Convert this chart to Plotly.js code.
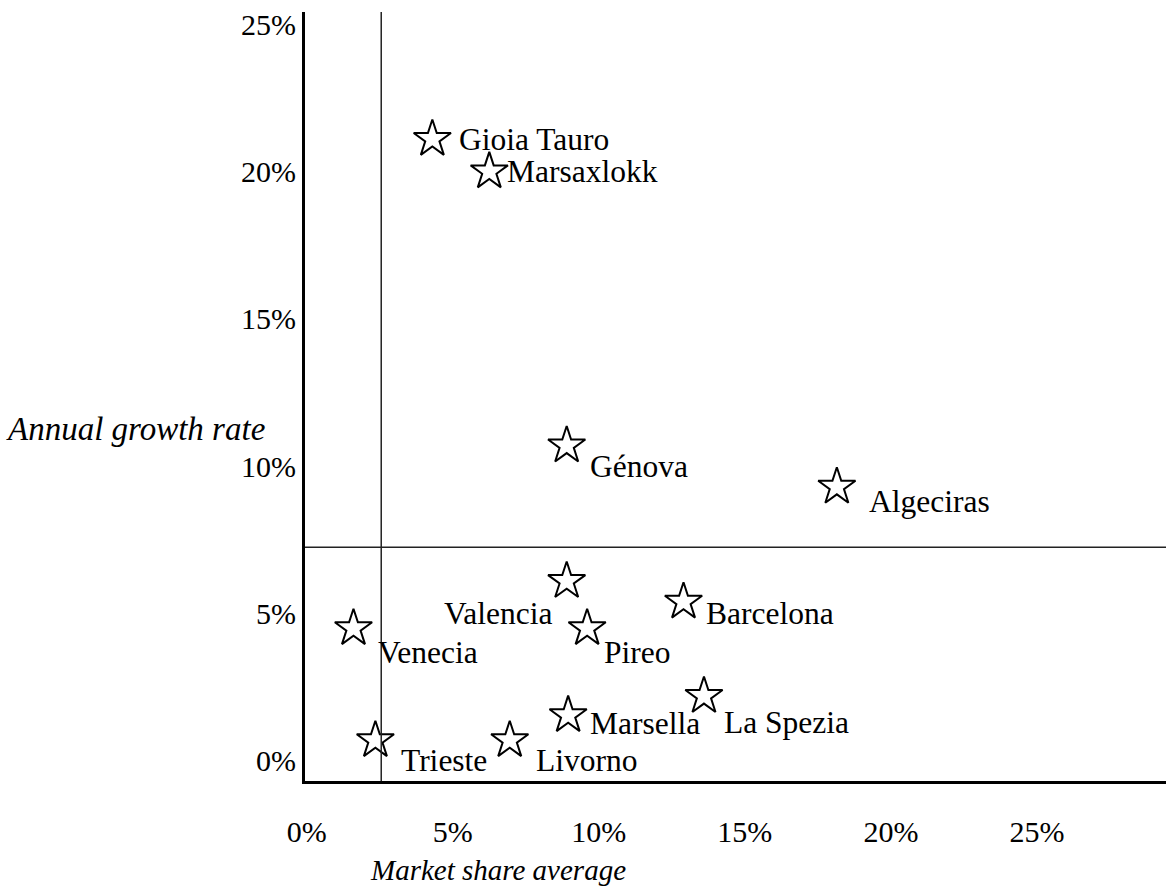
<!DOCTYPE html>
<html>
<head>
<meta charset="utf-8">
<script src="https://cdn.plot.ly/plotly-3.0.1.min.js"></script>
<style>html,body{margin:0;padding:0;background:#fff;}#chart{width:1166px;height:889px;}</style>
</head>
<body>
<div id="chart"></div>
<script>
// Data (percent)
var ports = ["Gioia Tauro","Marsaxlokk","Génova","Algeciras","Valencia","Barcelona","Venecia","Pireo","La Spezia","Marsella","Trieste","Livorno"];
var marketShare = [4.3, 6.25, 8.9, 18.15, 8.9, 12.9, 1.6, 9.6, 13.6, 8.95, 2.35, 6.95];
var growthRate = [21.1, 20.0, 10.7, 9.3, 6.1, 5.4, 4.5, 4.5, 2.2, 1.55, 0.7, 0.7];
var xTicks = [0, 5, 10, 15, 20, 25];
var xTickLabels = ["0%","5%","10%","15%","20%","25%"];
var yTicks = [0, 5, 10, 15, 20, 25];
var yTickLabels = ["0%","5%","10%","15%","20%","25%"];
var shareDivider = 2.55;
var growthDivider = 7.25;

// label placement (style): [xanchor, xshift, yshift]
var labelPlacement = [
  ["left",26,0],["left",17,0],["left",22,-21],["left",31,-15],
  ["right",-14,-32],["left",21,-12],["left",24,-24],["left",16,-24],
  ["left",19,-26],["left",21,-8],["left",25,-20],["left",25,-20]
];

var FONT = "'Liberation Serif', 'DejaVu Serif', serif";
var FS_LABEL = 31.5;
var FS_TICK = 30;

var trace = {
  type: "scatter", mode: "markers",
  x: marketShare, y: growthRate,
  marker: {symbol: "star-open", size: 28, color: "#000", line: {width: 2, color: "#000"}},
  hoverinfo: "none", cliponaxis: false
};

var annotations = ports.map(function(p, i){
  var pl = labelPlacement[i];
  return {x: marketShare[i], y: growthRate[i], xref: "x", yref: "y", text: p, showarrow: false,
    xanchor: pl[0], yanchor: "middle", xshift: pl[1], yshift: pl[2], borderpad: 0,
    font: {family: FONT, size: FS_LABEL, color: "#000"}};
});
annotations.push({xref: "paper", yref: "paper", x: -0.197, y: 0.458, xanchor: "center", yanchor: "middle",
  text: "<i>Annual growth rate</i>", showarrow: false, font: {family: FONT, size: 33, color: "#000"}});
annotations.push({xref: "paper", yref: "paper", x: 0.224, y: -0.116, xanchor: "center", yanchor: "middle",
  text: "<i>Market share average</i>", showarrow: false, font: {family: FONT, size: 29, color: "#000"}});

var layout = {
  width: 1166, height: 889,
  margin: {l: 305, r: 0, t: 12, b: 108, pad: 0},
  paper_bgcolor: "#fff", plot_bgcolor: "#fff",
  showlegend: false,
  font: {family: FONT, size: FS_TICK, color: "#000"},
  xaxis: {range: [-0.06, 29.42], tickvals: xTicks, ticktext: xTickLabels, showgrid: false, zeroline: false,
    showline: true, linewidth: 3, linecolor: "#000", ticks: "outside", ticklen: 22, tickcolor: "rgba(0,0,0,0)",
    tickfont: {family: FONT, size: FS_TICK, color: "#000"}, fixedrange: true},
  yaxis: {range: [-0.68, 25.41], tickvals: yTicks, ticktext: yTickLabels, showgrid: false, zeroline: false,
    showline: true, linewidth: 3, linecolor: "#000", ticks: "",
    tickfont: {family: FONT, size: FS_TICK, color: "#000"}, fixedrange: true},
  shapes: [
    {type: "line", xref: "x", yref: "paper", x0: shareDivider, x1: shareDivider, y0: 0, y1: 1, line: {color: "#222", width: 1.5}},
    {type: "line", xref: "paper", yref: "y", x0: 0, x1: 1, y0: growthDivider, y1: growthDivider, line: {color: "#222", width: 1.5}}
  ],
  annotations: annotations
};

Plotly.newPlot("chart", [trace], layout, {displayModeBar: false, staticPlot: true});
</script>
</body>
</html>
